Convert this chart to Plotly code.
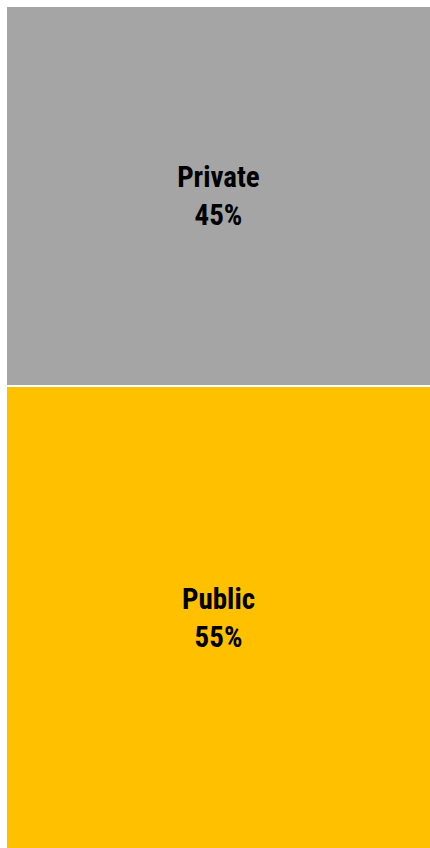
import plotly.graph_objects as go

# Ownership split (percent of total), stacked bottom-to-top
segments = ["Public", "Private"]
shares = [55, 45]
colors = ["#FFC000", "#A5A5A5"]
category = ["Ownership"]

fig = go.Figure()
for name, val, col in zip(segments, shares, colors):
    fig.add_trace(go.Bar(
        x=category,
        y=[val],
        name=name,
        customdata=[name],
        marker=dict(color=col, line=dict(color="white", width=2)),
        width=1.2,
        texttemplate="<b>%{customdata}</b><br><b>%{y}%</b>",
        textposition="inside",
        insidetextanchor="middle",
        textangle=0,
        textfont=dict(family="Liberation Sans Narrow, Arial Narrow, Roboto Condensed, sans-serif",
                      size=29, color="black"),
        hoverinfo="skip",
    ))

fig.update_layout(
    barmode="stack",
    bargap=0,
    showlegend=False,
    width=430,
    height=848,
    margin=dict(l=7, r=0, t=5, b=0),
    paper_bgcolor="white",
    plot_bgcolor="white",
    uniformtext=dict(mode=False),
)
fig.update_xaxes(visible=False, range=[-0.5, 0.5])
fig.update_yaxes(visible=False, range=[0.2, 100.1])

fig.write_html("out.html")
